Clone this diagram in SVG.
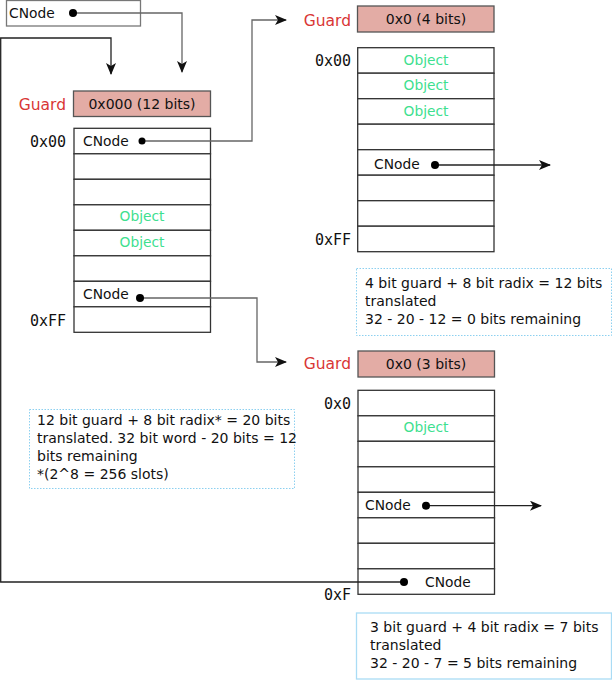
<svg xmlns="http://www.w3.org/2000/svg" width="612" height="680" viewBox="0 0 612 680">
<defs>
<marker id="arr" viewBox="0 0 12 10" refX="11" refY="5" markerWidth="12" markerHeight="10" markerUnits="userSpaceOnUse" orient="auto">
<path d="M0,0 L12,5 L0,10 L3,5 Z" fill="#111"/>
</marker>
<style>
text{font-family:"DejaVu Sans","Noto Sans",sans-serif;font-size:13.8px;fill:#111}
.nt{font-size:14px}
.mono{font-family:"DejaVu Sans Mono","Liberation Mono",monospace;font-size:15px;text-anchor:end}
.guard{fill:#d93636;font-size:15.5px;text-anchor:end}
.gbox{fill:#e3aca5;stroke:#555;stroke-width:1.3}
.gtxt{text-anchor:middle;font-size:14px}
.cell{fill:#fff;stroke:#333;stroke-width:1.3}
.obj{fill:#3ee08f;text-anchor:middle}
.conn{fill:none;stroke:#666;stroke-width:1.3}
.connd{fill:none;stroke:#222;stroke-width:1.3}
.dot{fill:#000}
.note{fill:#fff;stroke:#8cd0f0;stroke-width:1;stroke-dasharray:1.5,1.5}
.note2{fill:#fff;stroke:#aadcf5;stroke-width:1.3}
</style>
</defs>

<g id="root-cnode">
<rect x="6.5" y="0.5" width="134" height="25.5" fill="#fff" stroke="#777" stroke-width="1.3"/>
<text x="9" y="18">CNode</text>
</g>

<g id="table1">
<text class="guard" x="66" y="110">Guard</text>
<rect class="gbox" x="73.5" y="91" width="137" height="25.5"/>
<text class="gtxt" x="142" y="109">0x000 (12 bits)</text>
<text class="mono" x="66" y="147">0x00</text>
<text class="mono" x="66" y="326">0xFF</text>
<rect class="cell" x="74" y="128.3" width="136.5" height="25.5"/>
<rect class="cell" x="74" y="153.8" width="136.5" height="25.5"/>
<rect class="cell" x="74" y="179.3" width="136.5" height="25.5"/>
<rect class="cell" x="74" y="204.8" width="136.5" height="25.5"/>
<rect class="cell" x="74" y="230.3" width="136.5" height="25.5"/>
<rect class="cell" x="74" y="255.8" width="136.5" height="25.5"/>
<rect class="cell" x="74" y="281.3" width="136.5" height="25.5"/>
<rect class="cell" x="74" y="306.8" width="136.5" height="25.5"/>
<text x="83" y="146">CNode</text>
<text class="obj" x="142" y="221">Object</text>
<text class="obj" x="142" y="247">Object</text>
<text x="83" y="299">CNode</text>
</g>

<g id="table2">
<text class="guard" x="351" y="26">Guard</text>
<rect class="gbox" x="357.5" y="6" width="136.5" height="26"/>
<text class="gtxt" x="426" y="24">0x0 (4 bits)</text>
<text class="mono" x="351" y="66">0x00</text>
<text class="mono" x="351" y="245">0xFF</text>
<rect class="cell" x="357.7" y="47.7" width="136.3" height="25.5"/>
<rect class="cell" x="357.7" y="73.2" width="136.3" height="25.5"/>
<rect class="cell" x="357.7" y="98.7" width="136.3" height="25.5"/>
<rect class="cell" x="357.7" y="124.2" width="136.3" height="25.5"/>
<rect class="cell" x="357.7" y="149.7" width="136.3" height="25.5"/>
<rect class="cell" x="357.7" y="175.2" width="136.3" height="25.5"/>
<rect class="cell" x="357.7" y="200.7" width="136.3" height="25.5"/>
<rect class="cell" x="357.7" y="226.2" width="136.3" height="25.5"/>
<text class="obj" x="426" y="65">Object</text>
<text class="obj" x="426" y="90">Object</text>
<text class="obj" x="426" y="116">Object</text>
<text x="374" y="169">CNode</text>
</g>

<g id="table3">
<text class="guard" x="351" y="369">Guard</text>
<rect class="gbox" x="358" y="351" width="136.5" height="26"/>
<text class="gtxt" x="426" y="369">0x0 (3 bits)</text>
<text class="mono" x="351" y="409">0x0</text>
<text class="mono" x="351" y="600">0xF</text>
<rect class="cell" x="358" y="390.3" width="136.5" height="25.5"/>
<rect class="cell" x="358" y="415.8" width="136.5" height="25.5"/>
<rect class="cell" x="358" y="441.3" width="136.5" height="25.5"/>
<rect class="cell" x="358" y="466.8" width="136.5" height="25.5"/>
<rect class="cell" x="358" y="492.3" width="136.5" height="25.5"/>
<rect class="cell" x="358" y="517.8" width="136.5" height="25.5"/>
<rect class="cell" x="358" y="543.3" width="136.5" height="25.5"/>
<rect class="cell" x="358" y="568.8" width="136.5" height="25.5"/>
<text class="obj" x="426" y="432">Object</text>
<text x="365" y="510">CNode</text>
<text x="425" y="587">CNode</text>
</g>

<g id="note1">
<rect class="note" x="29.5" y="409.5" width="265" height="79"/>
<text class="nt" x="37" y="425">12 bit guard + 8 bit radix* = 20 bits</text>
<text class="nt" x="37" y="443">translated. 32 bit word - 20 bits = 12</text>
<text class="nt" x="37" y="461">bits remaining</text>
<text class="nt" x="37" y="479">*(2^8 = 256 slots)</text>
</g>

<g id="note2">
<rect class="note" x="356.5" y="268.5" width="255" height="67"/>
<text class="nt" x="365" y="288">4 bit guard + 8 bit radix = 12 bits</text>
<text class="nt" x="365" y="306">translated</text>
<text class="nt" x="365" y="324">32 - 20 - 12 = 0 bits remaining</text>
</g>

<g id="note3">
<rect class="note2" x="356.5" y="613" width="255" height="66"/>
<text class="nt" x="370" y="632">3 bit guard + 4 bit radix = 7 bits</text>
<text class="nt" x="370" y="650">translated</text>
<text class="nt" x="370" y="668">32 - 20 - 7 = 5 bits remaining</text>
</g>

<g id="connectors">
<path class="conn" d="M73,13 H182 V72" marker-end="url(#arr)"/>
<path class="connd" d="M404,582 H0.7 V38 H111 V74" marker-end="url(#arr)"/>
<path class="conn" d="M142,141 H252 V20 H286" marker-end="url(#arr)"/>
<path class="conn" d="M140,298 H257 V362 H286" marker-end="url(#arr)"/>
<path class="connd" d="M435,165 H550" marker-end="url(#arr)"/>
<path class="connd" d="M426,505.7 H541" marker-end="url(#arr)"/>
<circle class="dot" cx="73" cy="13" r="4"/>
<circle class="dot" cx="142" cy="141" r="3.5"/>
<circle class="dot" cx="140" cy="298" r="4"/>
<circle class="dot" cx="435" cy="165" r="4"/>
<circle class="dot" cx="426" cy="505.7" r="4"/>
<circle class="dot" cx="404" cy="582" r="4"/>
</g>
</svg>
